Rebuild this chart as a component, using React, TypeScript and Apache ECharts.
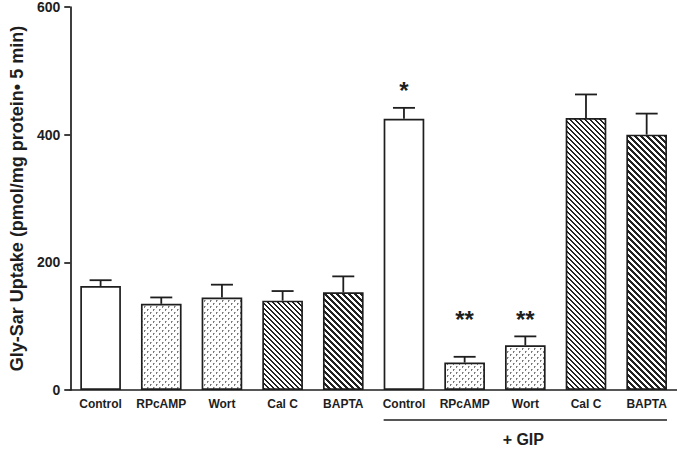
import React, { useEffect, useRef } from "react";
import * as echarts from "echarts";

// ---- data ----
const categories = ["Control", "RPcAMP", "Wort", "Cal C", "BAPTA", "Control", "RPcAMP", "Wort", "Cal C", "BAPTA"];
const uptake = [163, 135, 145, 140, 153, 425, 43, 70, 426, 400];
const sem = [9, 10, 20, 15, 25, 17, 9, 14, 37, 33];
const significance = ["", "", "", "", "", "*", "**", "**", "", ""];
const groupLabels = ["+ GIP"];
const groupStart = [5];
const groupEnd = [9];
const yTicks = [0, 200, 400, 600];
const yAxisTitle = "Gly-Sar Uptake (pmol/mg protein\u2022 5 min)";

const FONT = "'Liberation Sans', Arial, Helvetica, sans-serif";
const INK = "#1e1e1e";

function makeTile(w: number, h: number, dark: (x: number, y: number) => string | null) {
  const c = document.createElement("canvas");
  c.width = w;
  c.height = h;
  const ctx = c.getContext("2d")!;
  ctx.fillStyle = "#ffffff";
  ctx.fillRect(0, 0, w, h);
  for (let y = 0; y < h; y++) {
    for (let x = 0; x < w; x++) {
      const col = dark(x, y);
      if (col) {
        ctx.fillStyle = col;
        ctx.fillRect(x, y, 1, 1);
      }
    }
  }
  return { image: c, repeat: "repeat", imageWidth: w, imageHeight: h } as any;
}

function fills() {
  const stipple = makeTile(6, 6, (x, y) =>
    (y === 0 && x === 0) || (y === 1 && x === 0) || (y === 3 && x === 3) || (y === 4 && x === 3)
      ? "#7a7a7a"
      : (y === 0 && x === 1) || (y === 3 && x === 4)
      ? "#b0b0b0"
      : null
  );
  const hatchDense = makeTile(5, 5, (x, y) => ((((x - y) % 5) + 5) % 5 < 2 ? "#222" : null));
  const hatch = makeTile(6, 6, (x, y) => ((((x - y) % 6) + 6) % 6 < 3 ? "#222" : null));
  const map: Record<string, any> = {
    Control: "#ffffff",
    RPcAMP: stipple,
    Wort: stipple,
    "Cal C": hatchDense,
    BAPTA: hatch,
  };
  return map;
}

export default function App() {
  const ref = useRef<HTMLDivElement>(null);
  useEffect(() => {
    if (!ref.current) return;
    const chart = echarts.init(ref.current, null, { renderer: "svg" });
    const fillMap = fills();

    const barData = uptake.map((v, i) => ({
      value: v,
      itemStyle: { color: fillMap[categories[i]], borderColor: INK, borderWidth: 1.7 },
    }));

    // star anchor: highest error-bar top among bars sharing same significance mark
    const starLevel = uptake.map((v, i) => {
      const mark = significance[i];
      if (!mark) return 0;
      let m = v + sem[i];
      uptake.forEach((v2, j) => {
        if (significance[j] === mark) m = Math.max(m, v2 + sem[j]);
      });
      return m;
    });

    const option: any = {
      animation: false,
      grid: { left: 67, right: 0, top: 7, bottom: 61, containLabel: false },
      xAxis: {
        type: "category",
        data: categories,
        axisLine: { lineStyle: { color: INK, width: 1.7 } },
        axisTick: { show: false },
        axisLabel: { color: INK, fontFamily: FONT, fontWeight: "bold", fontSize: 12, margin: 8, interval: 0 },
      },
      yAxis: {
        type: "value",
        min: yTicks[0],
        max: yTicks[yTicks.length - 1],
        interval: yTicks[1] - yTicks[0],
        name: yAxisTitle,
        nameLocation: "middle",
        nameGap: 44,
        nameTextStyle: { color: INK, fontFamily: FONT, fontWeight: "bold", fontSize: 18 },
        axisLine: { show: true, lineStyle: { color: INK, width: 1.7 } },
        axisTick: { show: true, length: 6, lineStyle: { color: INK, width: 1.7 } },
        axisLabel: { color: INK, fontFamily: FONT, fontWeight: "bold", fontSize: 14, margin: 10 },
        splitLine: { show: false },
      },
      series: [
        {
          type: "bar",
          data: barData,
          barWidth: "67%",
        },
        {
          type: "custom",
          clip: false,
          z: 5,
          data: uptake.map((v, i) => [i, v, sem[i], starLevel[i]]),
          renderItem: (params: any, api: any) => {
            const i = api.value(0);
            const v = api.value(1);
            const e = api.value(2);
            const base = api.coord([i, v]);
            const top = api.coord([i, v + e]);
            const capHalf = 11;
            const children: any[] = [
              {
                type: "line",
                shape: { x1: base[0], y1: base[1], x2: top[0], y2: top[1] },
                style: { stroke: INK, lineWidth: 1.8 },
              },
              {
                type: "line",
                shape: { x1: top[0] - capHalf, y1: top[1], x2: top[0] + capHalf, y2: top[1] },
                style: { stroke: INK, lineWidth: 1.8 },
              },
            ];
            const mark = significance[params.dataIndex];
            if (mark) {
              const sp = api.coord([i, api.value(3)]);
              children.push({
                type: "text",
                style: {
                  text: mark,
                  x: sp[0],
                  y: sp[1] - 17,
                  align: "center",
                  verticalAlign: "middle",
                  fill: INK,
                  font: `bold 24px ${FONT}`,
                },
              });
            }
            return { type: "group", children };
          },
        },
        {
          type: "custom",
          clip: false,
          z: 5,
          data: groupLabels.map((_, g) => [groupStart[g], groupEnd[g]]),
          renderItem: (params: any, api: any) => {
            const s = api.value(0);
            const e = api.value(1);
            const band = api.size([1, 0])[0];
            const half = band * 0.335;
            const p1 = api.coord([s, 0]);
            const p2 = api.coord([e, 0]);
            const y = p1[1] + 30;
            return {
              type: "group",
              children: [
                {
                  type: "line",
                  shape: { x1: p1[0] - half, y1: y, x2: p2[0] + half, y2: y },
                  style: { stroke: INK, lineWidth: 1.3 },
                },
                {
                  type: "text",
                  style: {
                    text: groupLabels[params.dataIndex],
                    x: (p1[0] - half + p2[0] + half) / 2 - 2,
                    y: y + 19,
                    align: "center",
                    verticalAlign: "middle",
                    fill: INK,
                    font: `bold 16px ${FONT}`,
                  },
                },
              ],
            };
          },
        },
      ],
    };
    chart.setOption(option);
    return () => chart.dispose();
  }, []);
  return (
    <div
      ref={ref}
      style={{ position: "absolute", left: 0, top: 0, width: 677, height: 451, background: "#fff" }}
    />
  );
}
